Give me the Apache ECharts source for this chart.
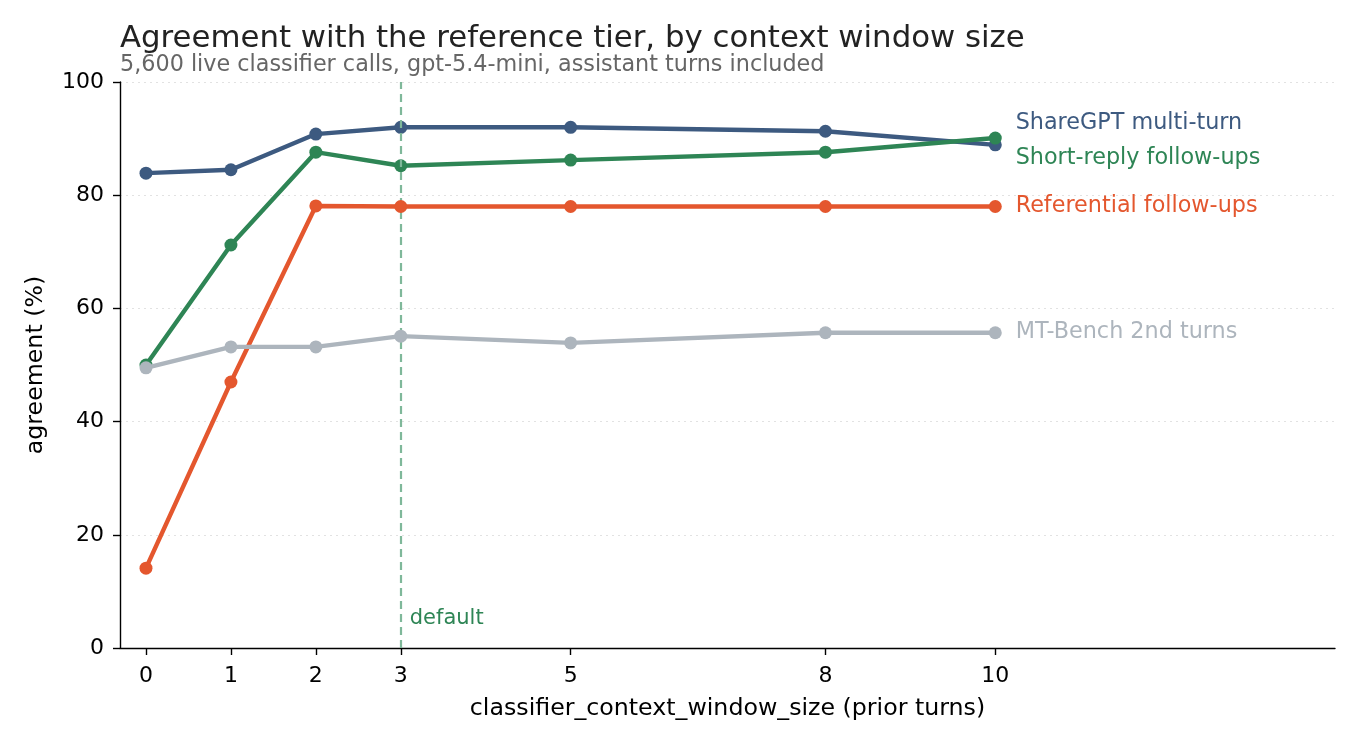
<!DOCTYPE html>
<html>
<head>
<meta charset="utf-8">
<script src="https://cdn.jsdelivr.net/npm/echarts@6/dist/echarts.min.js"></script>
<style>
  html, body { margin: 0; padding: 0; background: #fff; }
  #chart { width: 1360px; height: 748px; }
</style>
</head>
<body>
<div id="chart"></div>
<script>
var windowSizes = [0, 1, 2, 3, 5, 8, 10];
var xTicks = [0, 1, 2, 3, 5, 8, 10];

var shareGpt = [83.9, 84.5, 90.8, 92.0, 92.0, 91.3, 88.9];
var shortReply = [50.0, 71.2, 87.6, 85.2, 86.2, 87.6, 90.1];
var referential = [14.1, 47.0, 78.1, 78.0, 78.0, 78.0, 78.0];
var mtBench = [49.5, 53.2, 53.2, 55.1, 53.9, 55.7, 55.7];

var seriesNames = ['ShareGPT multi-turn', 'Short-reply follow-ups', 'Referential follow-ups', 'MT-Bench 2nd turns'];
var seriesColors = ['#3d5a80', '#2e8555', '#e4572e', '#adb5bd'];
// where the end labels sit (nudged apart)
var labelY = [92.8, 86.6, 78.0, 55.8];
var labelX = 10.24;
var defaultWindow = 3;

var fontFam = 'DejaVu Sans';

function pairs(vals) {
    return windowSizes.map(function (x, i) { return [x, vals[i]]; });
}

var allVals = [shareGpt, shortReply, referential, mtBench];

var series = allVals.map(function (vals, i) {
    return {
        name: seriesNames[i],
        type: 'line',
        data: pairs(vals),
        symbol: 'circle',
        symbolSize: 13,
        z: 3 + i,
        lineStyle: { width: 4.4, color: seriesColors[i] },
        itemStyle: { color: seriesColors[i] },
        emphasis: { disabled: true }
    };
});

// end labels
series.push({
    type: 'scatter',
    symbolSize: 0,
    silent: true,
    itemStyle: { opacity: 1 },
    data: labelY.map(function (y, i) {
        return {
            value: [labelX, y],
            label: {
                show: true,
                position: 'right',
                distance: 0,
                formatter: seriesNames[i],
                color: seriesColors[i],
                fontSize: 22.3,
                fontFamily: fontFam
            }
        };
    })
});

// default marker
series.push({
    type: 'line',
    data: [],
    markLine: {
        silent: true,
        symbol: 'none',
        label: { show: false },
        lineStyle: { color: '#7fb89a', type: [8, 5], width: 2.2 },
        data: [{ xAxis: defaultWindow }]
    },
    markPoint: {
        silent: true,
        symbol: 'rect',
        symbolSize: 0,
        data: [{
            coord: [defaultWindow, 5.2],
            label: {
                show: true,
                position: 'right',
                distance: 9,
                formatter: 'default',
                color: '#2e8555',
                fontSize: 21,
                fontFamily: fontFam
            }
        }]
    }
});

var myChart = echarts.init(document.getElementById('chart'));

var option = {
    animation: false,
    backgroundColor: '#fff',
    textStyle: { fontFamily: fontFam },
    title: [{
        text: 'Agreement with the reference tier, by context window size',
        left: 115,
        top: 18,
        textStyle: { fontSize: 30.8, fontWeight: 'normal', color: '#222', fontFamily: fontFam }
    }, {
        text: '5,600 live classifier calls, gpt-5.4-mini, assistant turns included',
        left: 115,
        top: 49,
        textStyle: { fontSize: 22.3, fontWeight: 'normal', color: '#666', fontFamily: fontFam }
    }],
    grid: { left: 120, right: 25, top: 82, bottom: 100 },
    xAxis: {
        type: 'value',
        min: -0.306,
        max: 14.0,
        name: 'classifier_context_window_size (prior turns)',
        nameLocation: 'middle',
        nameGap: 49,
        nameTextStyle: { fontSize: 23.7, color: '#000', fontFamily: fontFam },
        axisLine: { show: true, onZero: false, lineStyle: { color: '#000', width: 1.4 } },
        axisTick: { show: true, length: 7, lineStyle: { color: '#000', width: 1.4 }, customValues: xTicks },
        axisLabel: { fontSize: 22, color: '#000', margin: 17, customValues: xTicks, fontFamily: fontFam },
        splitLine: { show: false }
    },
    yAxis: {
        type: 'value',
        min: 0,
        max: 100,
        interval: 20,
        name: 'agreement (%)',
        nameLocation: 'middle',
        nameGap: 72,
        nameTextStyle: { fontSize: 23.7, color: '#000', fontFamily: fontFam },
        axisLine: { show: true, onZero: false, lineStyle: { color: '#000', width: 1.4 } },
        axisTick: { show: true, length: 7, lineStyle: { color: '#000', width: 1.4 } },
        axisLabel: { fontSize: 22, color: '#000', margin: 16, fontFamily: fontFam },
        splitLine: { show: true, lineStyle: { color: '#e2e2e2', type: [2, 4], width: 1 } }
    },
    series: series
};

myChart.setOption(option);
</script>
</body>
</html>
